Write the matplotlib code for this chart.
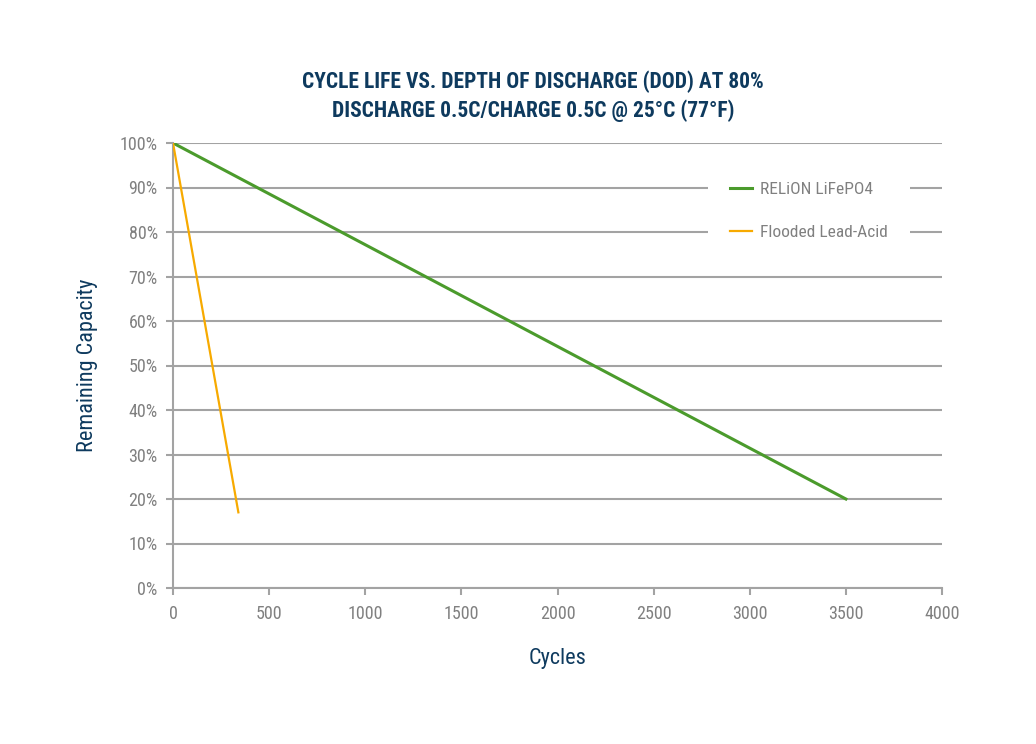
import matplotlib
matplotlib.use("Agg")
import matplotlib.pyplot as plt
from matplotlib import font_manager
from matplotlib.ticker import FuncFormatter

# pick a condensed face if one is installed
names = {f.name for f in font_manager.fontManager.ttflist}
family = "Roboto Condensed" if "Roboto Condensed" in names else "Roboto"
plt.rcParams["font.family"] = [family, "DejaVu Sans"]

# --- Data ---
lifepo4_cycles = [0, 3500]
lifepo4_capacity = [100, 20]
lead_cycles = [0, 340]
lead_capacity = [100, 17]

x_ticks = [0, 500, 1000, 1500, 2000, 2500, 3000, 3500, 4000]
y_ticks = [0, 10, 20, 30, 40, 50, 60, 70, 80, 90, 100]

NAVY = "#0e3a5e"
GRAY = "#808080"
GRID = "#a3a3a3"
GREEN = "#4b9b2c"
ORANGE = "#f7aa00"

fig = plt.figure(figsize=(10.36, 7.44), dpi=100)
ax = fig.add_axes([173 / 1036, 1 - 588 / 744, (942 - 173) / 1036, (588 - 143) / 744])

ax.plot(lifepo4_cycles, lifepo4_capacity, color=GREEN, linewidth=2.2, label="RELiON LiFePO4", zorder=3)
ax.plot(lead_cycles, lead_capacity, color=ORANGE, linewidth=1.6, label="Flooded Lead-Acid", zorder=3)

ax.set_xlim(0, 4000)
ax.set_ylim(0, 100)
ax.set_xticks(x_ticks)
ax.set_yticks(y_ticks)
ax.yaxis.set_major_formatter(FuncFormatter(lambda v, p: f"{v:.0f}%"))

ax.grid(axis="y", color=GRID, linewidth=1.5)
ax.set_axisbelow(True)
for s in ["top", "right"]:
    ax.spines[s].set_visible(False)
for s in ["left", "bottom"]:
    ax.spines[s].set_color(GRID)
    ax.spines[s].set_linewidth(1.5)
ax.tick_params(colors=GRAY, labelsize=13, length=5, width=1.5)
ax.tick_params(axis="x", color=GRID, pad=7)
ax.tick_params(axis="y", color=GRID, pad=6)

ax.set_xlabel("Cycles", color=NAVY, fontsize=16, labelpad=18)
ax.set_ylabel("Remaining Capacity", color=NAVY, fontsize=16, labelpad=16)

fig.text(533 / 1036, 1 - 82 / 744, "CYCLE LIFE VS. DEPTH OF DISCHARGE (DOD) AT 80%",
         ha="center", va="center", color=NAVY, fontsize=15.5, fontweight="bold")
fig.text(533 / 1036, 1 - 111 / 744, "DISCHARGE 0.5C/CHARGE 0.5C @ 25°C (77°F)",
         ha="center", va="center", color=NAVY, fontsize=15.5, fontweight="bold")

leg = ax.legend(loc="upper left", bbox_to_anchor=((708 - 173) / 769, (588 - 160) / 445),
                frameon=True, facecolor="white", edgecolor="none", framealpha=1,
                fancybox=False, fontsize=12.5, handlelength=1.26, handletextpad=0.5,
                labelspacing=1.6, borderpad=1.26, borderaxespad=0)
for t in leg.get_texts():
    t.set_color(GRAY)

fig.savefig("out.png", dpi=100, facecolor="white")
